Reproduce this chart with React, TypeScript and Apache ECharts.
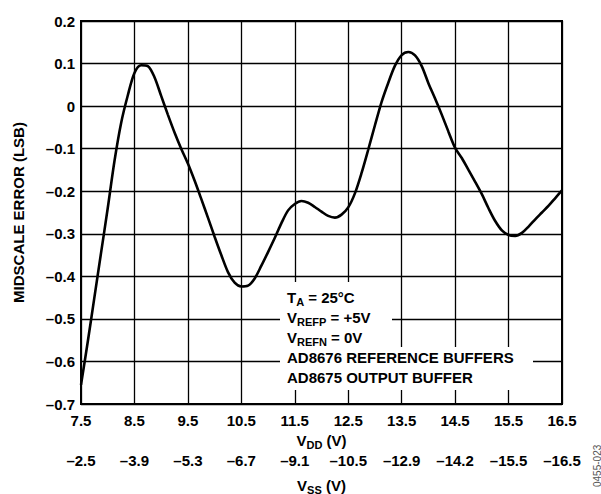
import React, { useEffect, useRef } from "react";
import * as echarts from "echarts";

// ---- data ----
const vddTickLabels = ["7.5", "8.5", "9.5", "10.5", "11.5", "12.5", "13.5", "14.5", "15.5", "16.5"];
const vssTickLabels = ["–2.5", "–3.9", "–5.3", "–6.7", "–9.1", "–10.5", "–12.9", "–14.2", "–15.5", "–16.5"];

// V_DD sample positions (V), every 0.125 V
const vddVolts = [
  7.5, 7.625, 7.75, 7.875, 8.0, 8.125, 8.25, 8.375, 8.5, 8.625, 8.75, 8.875,
  9.0, 9.125, 9.25, 9.375, 9.5, 9.625, 9.75, 9.875, 10.0, 10.125, 10.25, 10.375,
  10.5, 10.625, 10.75, 10.875, 11.0, 11.125, 11.25, 11.375, 11.5, 11.625, 11.75, 11.875,
  12.0, 12.125, 12.25, 12.375, 12.5, 12.625, 12.75, 12.875, 13.0, 13.125, 13.25, 13.375,
  13.5, 13.625, 13.75, 13.875, 14.0, 14.125, 14.25, 14.375, 14.5, 14.625, 14.75, 14.875,
  15.0, 15.125, 15.25, 15.375, 15.5, 15.625, 15.75, 15.875, 16.0, 16.125, 16.25, 16.375,
  16.5,
];
// Midscale error (LSB)
const midscaleErrorLsb = [
  -0.655, -0.555, -0.45, -0.345, -0.24, -0.13, -0.04, 0.025, 0.078, 0.096, 0.094, 0.068,
  0.024, -0.02, -0.062, -0.1, -0.135, -0.175, -0.218, -0.262, -0.307, -0.35, -0.39, -0.415,
  -0.424, -0.422, -0.405, -0.375, -0.343, -0.31, -0.275, -0.245, -0.23, -0.223, -0.227, -0.237,
  -0.248, -0.258, -0.262, -0.255, -0.238, -0.205, -0.157, -0.102, -0.045, 0.01, 0.055, 0.095,
  0.12, 0.127, 0.119, 0.094, 0.054, 0.018, -0.02, -0.06, -0.098, -0.122, -0.15, -0.178,
  -0.207, -0.24, -0.27, -0.292, -0.303, -0.305, -0.298, -0.283, -0.266, -0.25, -0.234, -0.216,
  -0.198,
];

const yMin = -0.7;
const yMax = 0.2;
const yStep = 0.1;

const annotationLines = [
  "{n|T}{s|A}{n| = 25°C}",
  "{n|V}{s|REFP}{n| = +5V}",
  "{n|V}{s|REFN}{n| = 0V}",
  "{n|AD8676 REFERENCE BUFFERS}",
  "{n|AD8675 OUTPUT BUFFER}",
];

const FONT = "'Liberation Sans', Arial, Helvetica, sans-serif";

const richStyles = {
  n: { fontSize: 15, fontWeight: "bold", fontFamily: FONT, color: "#000", lineHeight: 20, verticalAlign: "middle" },
  s: { fontSize: 11, fontWeight: "bold", fontFamily: FONT, color: "#000", lineHeight: 12, verticalAlign: "bottom" },
};

export default function App() {
  const ref = useRef<HTMLDivElement>(null);

  useEffect(() => {
    document.body.style.margin = "0";
    if (!ref.current) return;
    const chart = echarts.init(ref.current, null, { renderer: "svg" });

    const seriesData = vddVolts.map((v, i) => [v, midscaleErrorLsb[i]]);

    const option = {
      animation: false,
      backgroundColor: "#fff",
      grid: {
        left: 81,
        right: 39,
        top: 21,
        bottom: 90,
        containLabel: false,
        outerBoundsMode: "none",
        show: true,
        borderColor: "#000",
        borderWidth: 2,
        backgroundColor: "transparent",
      },
      xAxis: [
        {
          type: "value",
          min: 7.5,
          max: 16.5,
          show: false,
        },
        {
          type: "category",
          data: vddTickLabels,
          boundaryGap: false,
          position: "bottom",
          axisLine: { show: true, lineStyle: { color: "#000", width: 2 } },
          axisTick: { show: false },
          splitLine: { show: true, interval: 0, lineStyle: { color: "#000", width: 1.3 } },
          axisLabel: {
            interval: 0,
            margin: 9,
            fontSize: 15,
            fontWeight: "bold",
            fontFamily: FONT,
            color: "#000",
          },
          name: "{n|V}{s|DD}{n| (V)}",
          nameLocation: "middle",
          nameGap: 24,
          nameTextStyle: { rich: richStyles },
        },
        {
          type: "category",
          data: vssTickLabels,
          boundaryGap: false,
          position: "bottom",
          offset: 41,
          axisLine: { show: false },
          axisTick: { show: false },
          splitLine: { show: false },
          axisLabel: {
            interval: 0,
            margin: 8,
            fontSize: 15,
            fontWeight: "bold",
            fontFamily: FONT,
            color: "#000",
          },
          name: "{n|V}{s|SS}{n| (V)}",
          nameLocation: "middle",
          nameGap: 30,
          nameTextStyle: { rich: richStyles },
        },
      ],
      yAxis: {
        type: "value",
        min: yMin,
        max: yMax,
        interval: yStep,
        axisLine: { show: true, lineStyle: { color: "#000", width: 2 } },
        axisTick: { show: false },
        splitLine: { show: true, lineStyle: { color: "#000", width: 1.3 } },
        axisLabel: {
          margin: 6,
          fontSize: 15,
          fontWeight: "bold",
          fontFamily: FONT,
          color: "#000",
          formatter: (v: number) => {
            const r = Math.round(v * 10) / 10;
            if (r === 0) return "0";
            return (r < 0 ? "–" : "") + Math.abs(r).toFixed(1);
          },
        },
        name: "MIDSCALE ERROR (LSB)",
        nameLocation: "middle",
        nameGap: 55,
        nameTextStyle: { fontSize: 15, fontWeight: "bold", fontFamily: FONT, color: "#000" },
      },
      series: [
        {
          type: "line",
          xAxisIndex: 0,
          yAxisIndex: 0,
          data: seriesData,
          smooth: 0.3,
          showSymbol: false,
          symbol: "none",
          lineStyle: { color: "#000", width: 2.6 },
          z: 5,
        },
      ],
      graphic: [
        { type: "rect", z: 10, shape: { x: 280, y: 282, width: 84, height: 25 }, style: { fill: "#fff" } },
        { type: "rect", z: 10, shape: { x: 280, y: 307, width: 112, height: 20 }, style: { fill: "#fff" } },
        { type: "rect", z: 10, shape: { x: 280, y: 327, width: 96, height: 20 }, style: { fill: "#fff" } },
        { type: "rect", z: 10, shape: { x: 280, y: 347, width: 253, height: 43 }, style: { fill: "#fff" } },
        {
          type: "text",
          z: 11,
          x: 287,
          y: 287,
          style: {
            text: annotationLines.join("\n"),
            rich: richStyles,
            fill: "#000",
            align: "left",
            verticalAlign: "top",
          },
        },
        {
          type: "text",
          z: 11,
          x: 592,
          y: 487,
          rotation: Math.PI / 2,
          style: {
            text: "0455-023",
            fontSize: 10,
            fontFamily: FONT,
            fill: "#555",
            align: "left",
            verticalAlign: "top",
          },
        },
      ],
    };

    chart.setOption(option as any);
    return () => chart.dispose();
  }, []);

  return <div ref={ref} style={{ width: 601, height: 494 }} />;
}
